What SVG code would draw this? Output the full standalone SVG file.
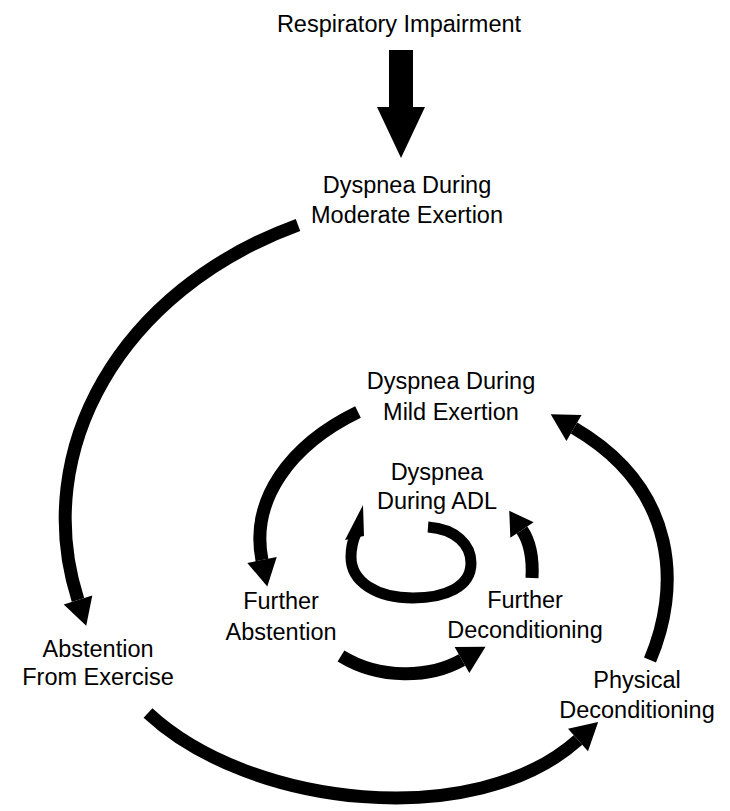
<svg xmlns="http://www.w3.org/2000/svg" width="730" height="811" viewBox="0 0 730 811">
<style>
text{font-family:"Liberation Sans",Arial,sans-serif;font-size:23.5px;fill:#000;text-anchor:middle}
.c{fill:none;stroke:#000;stroke-width:13;stroke-linecap:butt}
.s{fill:none;stroke:#000;stroke-width:11;stroke-linecap:butt}
</style>
<defs>
<marker id="ah" markerUnits="userSpaceOnUse" orient="auto" refX="0" refY="0" markerWidth="40" markerHeight="40" viewBox="0 -20 40 40" overflow="visible">
<path d="M0,-15 L27,0 L0,15 Z" fill="#000"/>
</marker>
<marker id="ahs" markerUnits="userSpaceOnUse" orient="auto" refX="0" refY="0" markerWidth="40" markerHeight="40" viewBox="0 -20 40 40" overflow="visible">
<path d="M0,-14 L23,0 L0,14 Z" fill="#000"/>
</marker>
</defs>
<g id="connectors">
<path id="e0" d="M389,50 H413 V107 H425 L401,158 L377,107 H389 Z" fill="#000"/>
<path id="e1" class="c" d="M298,225 C120,290 30,450 78,600" marker-end="url(#ah)"/>
<path id="e2" class="c" d="M148,713 C250,808 475,832 578,740" marker-end="url(#ah)"/>
<path id="e3" class="c" d="M650,660 C680,590 680,490 574,428" marker-end="url(#ah)"/>
<path id="e4" class="c" d="M358,412 C290,445 250,500 262,560" marker-end="url(#ah)"/>
<path id="e5" class="c" d="M341,656 C380,680 430,678 462,660" marker-end="url(#ah)"/>
<path id="e6" class="c" d="M532,578 C533,560 530,542 522,530" marker-end="url(#ahs)"/>
<path id="e7" class="s" d="M428,527 C456,529 471,545 471,563 C471,587 445,598 413,598 C377,598 351,582 351,557 C351,547 353,540 356,533"/>
<path id="e7h" d="M345,540 L363,505 L364,536 Z" fill="#000"/>
</g>
<g id="n-resp"><text x="399" y="32">Respiratory Impairment</text></g>
<g id="n-moderate"><text x="407" y="193">Dyspnea During</text><text x="407" y="223">Moderate Exertion</text></g>
<g id="n-abstention"><text x="98" y="657">Abstention</text><text x="98" y="685">From Exercise</text></g>
<g id="n-physical"><text x="637" y="688">Physical</text><text x="637" y="718">Deconditioning</text></g>
<g id="n-mild"><text x="451" y="389">Dyspnea During</text><text x="451" y="420">Mild Exertion</text></g>
<g id="n-furtherabst"><text x="281" y="609">Further</text><text x="281" y="640">Abstention</text></g>
<g id="n-furtherdecond"><text x="525" y="608">Further</text><text x="525" y="638">Deconditioning</text></g>
<g id="n-adl"><text x="437" y="480">Dyspnea</text><text x="437" y="509">During ADL</text></g>
</svg>
